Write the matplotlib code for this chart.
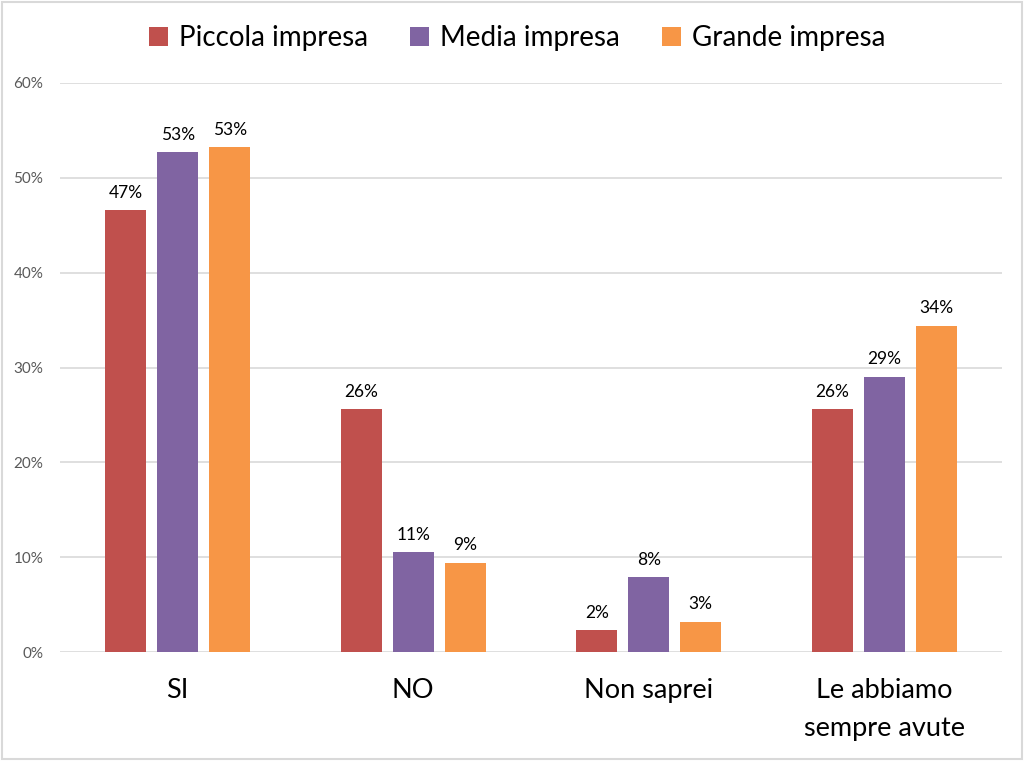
import matplotlib
matplotlib.use("Agg")
import matplotlib.pyplot as plt
import numpy as np
from matplotlib.patches import Rectangle

plt.rcParams['font.family'] = ['Lato', 'DejaVu Sans']

categories = ["SI", "NO", "Non saprei", "Le abbiamo\nsempre avute"]
series_names = ["Piccola impresa", "Media impresa", "Grande impresa"]
piccola = [46.6, 25.6, 2.3, 25.6]
media = [52.7, 10.5, 7.9, 29.0]
grande = [53.2, 9.4, 3.2, 34.4]
labels = [["47%", "26%", "2%", "26%"],
          ["53%", "11%", "8%", "29%"],
          ["53%", "9%", "3%", "34%"]]
yticks = [0, 10, 20, 30, 40, 50, 60]
colors = ["#C0504D", "#8064A2", "#F79646"]

fig = plt.figure(figsize=(10.24, 7.61), dpi=100)
ax = fig.add_axes([60/1024, 1-652/761, (1002-60)/1024, (652-83)/761])

x = np.arange(len(categories))
w = 0.175
step = 0.221
for i, (vals, c) in enumerate(zip([piccola, media, grande], colors)):
    pos = x + (i-1)*step
    ax.bar(pos, vals, width=w, color=c, label=series_names[i], zorder=3)
    for p, v, t in zip(pos, vals, labels[i]):
        ax.text(p, v + 1.0, t, ha='center', va='bottom', fontsize=12.5, color='#000000')

ax.set_xlim(-0.5, 3.5)
ax.set_ylim(0, 60)
ax.set_yticks(yticks)
ax.set_yticklabels([f"{t}%" for t in yticks], fontsize=11, color='#595959')
ax.set_xticks(x)
ax.set_xticklabels(categories, fontsize=19.5, color='#000000', linespacing=1.65)
ax.tick_params(axis='both', length=0)
ax.tick_params(axis='y', pad=12)
ax.tick_params(axis='x', pad=19)
ax.grid(axis='y', color='#D9D9D9', linewidth=1.2, zorder=0)
for s in ax.spines.values():
    s.set_visible(False)

leg = fig.legend(loc='upper center', bbox_to_anchor=(0.505, 1.0), ncol=3, frameon=False,
                 fontsize=20, handlelength=0.7, handleheight=0.7, handletextpad=0.4,
                 columnspacing=1.5, borderaxespad=0.5)

fig.patches.append(Rectangle((0.002, 0.002), 0.996, 0.996, transform=fig.transFigure,
                             fill=False, edgecolor='#D9D9D9', linewidth=1.5))

fig.savefig("out.png", dpi=100)
